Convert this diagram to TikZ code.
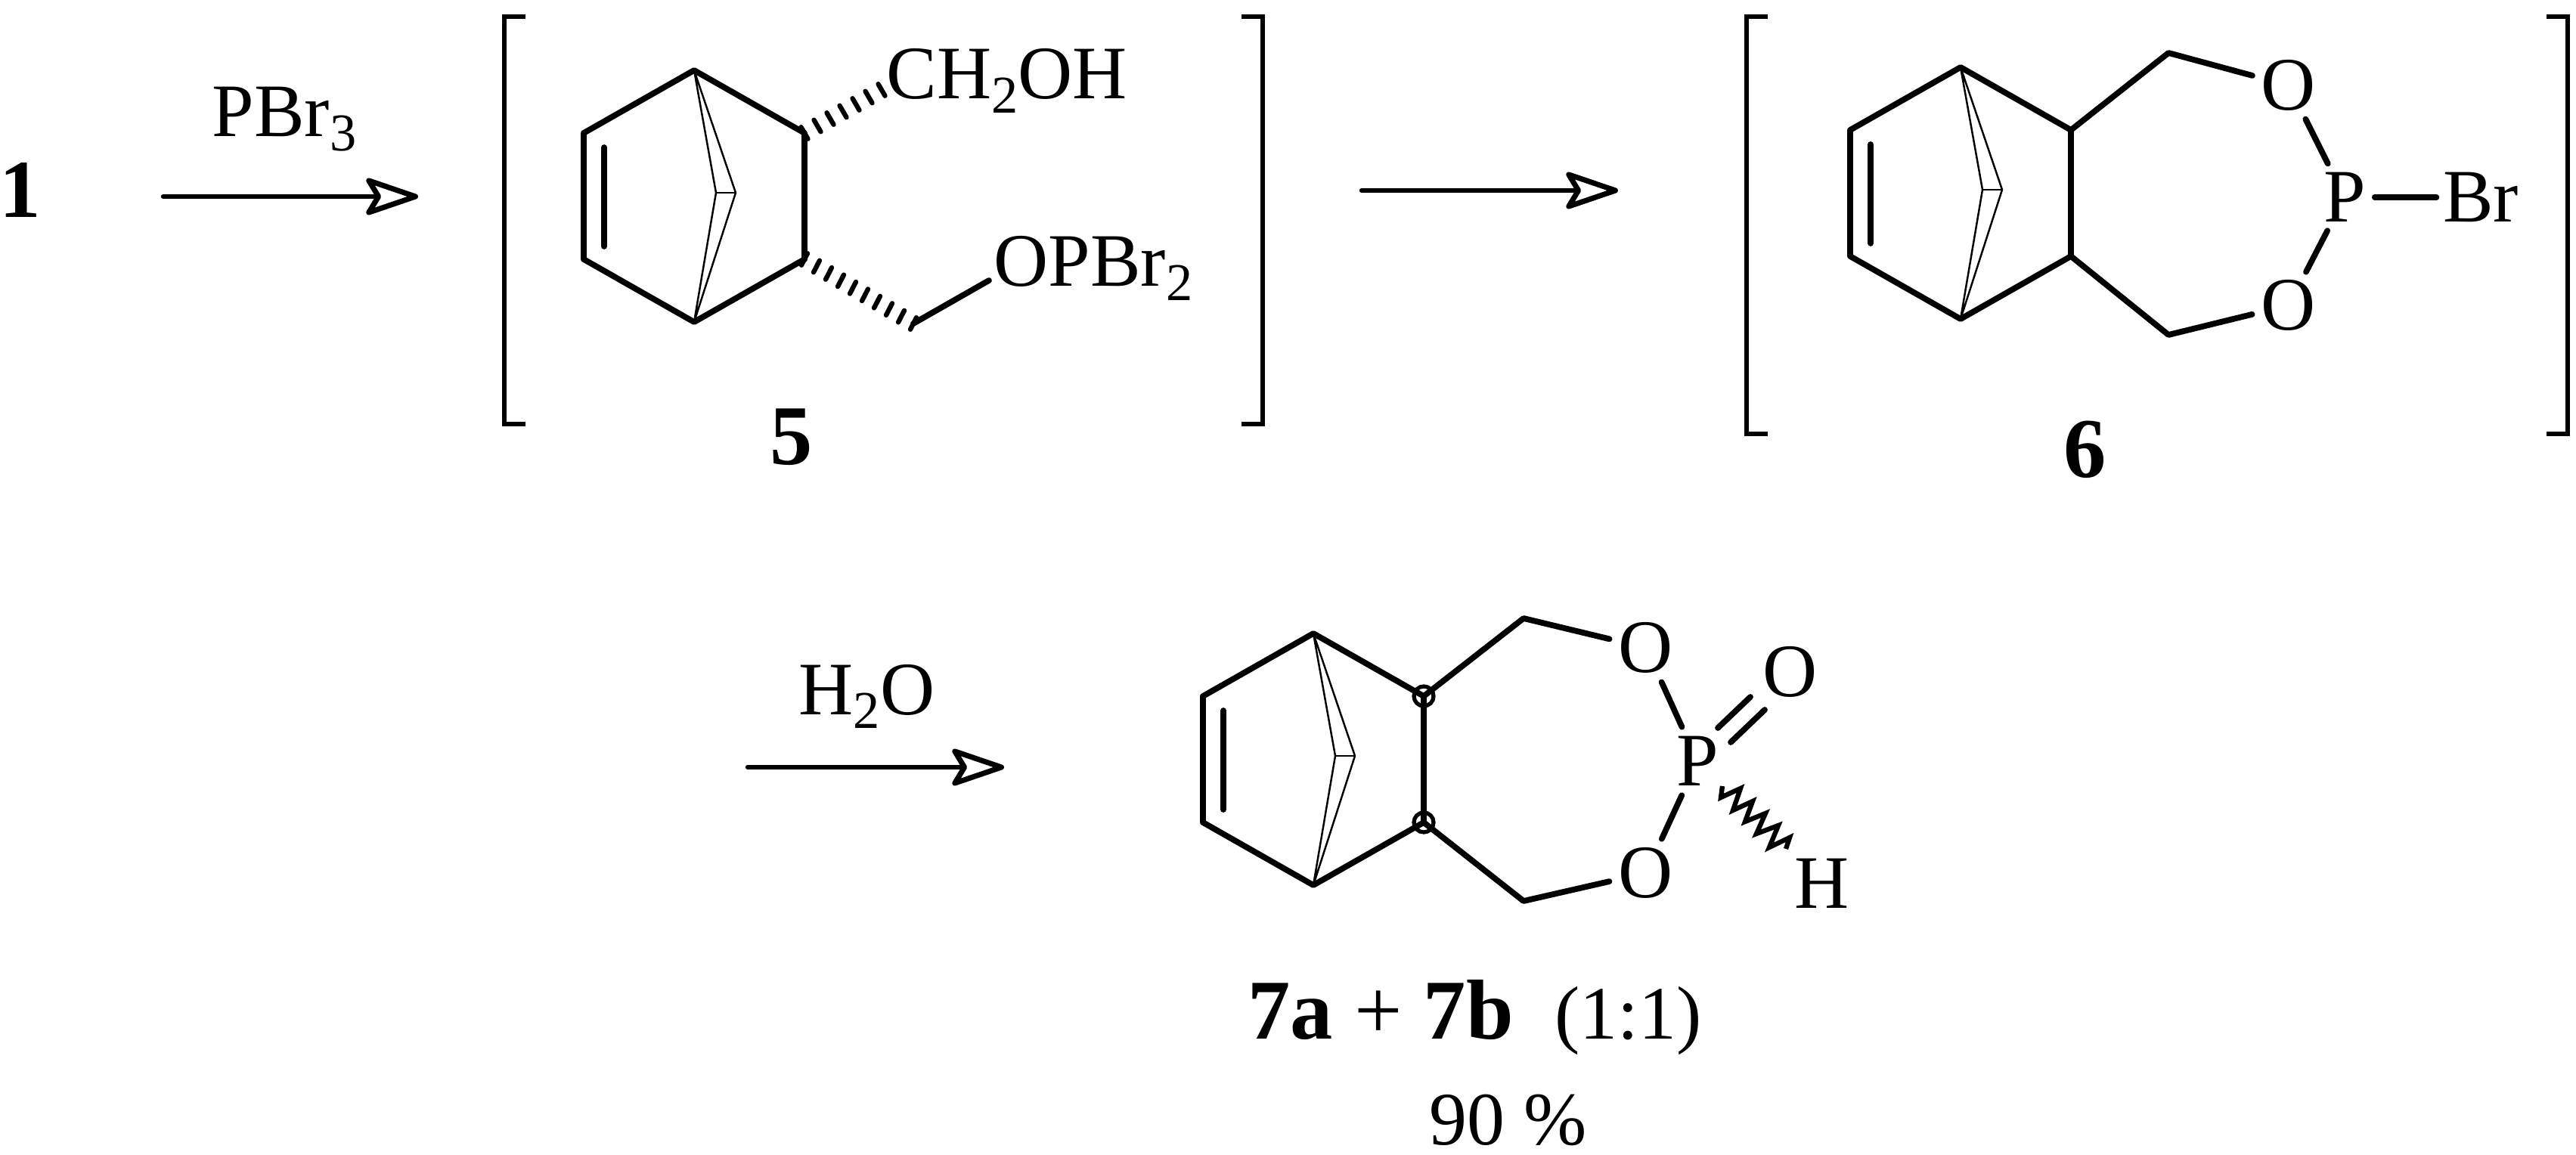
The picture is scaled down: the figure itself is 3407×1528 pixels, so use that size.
\documentclass[tikz,border=0pt]{standalone}
\usepackage{fontspec}
\setmainfont{Liberation Serif}
\usetikzlibrary{arrows.meta, calc}

\tikzset{
  bond/.style={line width=2.2pt, line cap=round, line join=round},
  thinbond/.style={line width=0.7pt, line join=round},
  hash/.style={line width=1.8pt, line cap=round},
  rxn/.style={line width=1.85pt, line cap=round, -{Stealth[open, round, length=0.8cm, width=0.54cm, inset=0.16cm, line width=2pt]}},
  brack/.style={line width=1.9pt},
  chem/.style={inner sep=0pt, font=\fontsize{28.4}{30}\selectfont},
  cmpd/.style={inner sep=0pt, font=\fontsize{32}{34}\selectfont\bfseries},
  atom/.style={chem, circle, minimum size=0.98cm},
  wavy/.style={line width=1.8pt, miter limit=4},
  ring/.style={line width=1.5pt}
}

% subscript in the text font
\newcommand{\sbs}[1]{\raisebox{-0.18cm}{\fontsize{20}{20}\selectfont #1}}

% bicyclic skeleton, #1 name prefix, #2 top bridgehead
\newcommand{\norbornene}[2]{
  \begin{scope}[shift={#2}, name prefix=#1-]
    \coordinate (top) at (0,0);
    \coordinate (lt) at (-146,83);
    \coordinate (lb) at (-146,250);
    \coordinate (bot) at (0,333);
    \coordinate (rb) at (146,250);
    \coordinate (rt) at (146,83);
    \coordinate (dbt) at (-119,102);
    \coordinate (dbb) at (-119,233);
    \coordinate (apl) at (29,162);
    \coordinate (apr) at (55,162);
    \draw[bond] (rt) -- (top) -- (lt) -- (lb) -- (bot) -- (rb) -- cycle;
    \draw[bond] (dbt) -- (dbb);
    \draw[thinbond] (top) -- (apl) -- (bot) -- (apr) -- cycle;
    \draw[thinbond] (apl) -- (apr);
  \end{scope}
}

% hashed bond, #1 start, #2 end, #3 lean of the strokes
\newcommand{\hashbond}[3]{
  \foreach \t in {0,0.1667,0.3333,0.5,0.6667,0.8333,1} {
    \draw[hash] ($(#1)!\t!(#2)+(-#3,-7.8)$) -- ($(#1)!\t!(#2)+(#3,7.8)$);
  }
}
% the longer one, strokes leaning the other way
\newcommand{\hashbondlong}[3]{
  \foreach \t in {0,0.1111,0.2222,0.3333,0.4444,0.5556,0.6667,0.7778,0.8889,1} {
    \draw[hash] ($(#1)!\t!(#2)+(#3,-7.8)$) -- ($(#1)!\t!(#2)+(-#3,7.8)$);
  }
}

% square bracket pair, #1 left, #2 right, #3 top, #4 bottom
\newcommand{\bracketpair}[4]{
  \draw[brack] (#1+28,#3) -- (#1,#3) -- (#1,#4) -- (#1+28,#4);
  \draw[brack] (#2-28,#3) -- (#2,#3) -- (#2,#4) -- (#2-28,#4);
}

\begin{document}
\begin{tikzpicture}[x=0.01cm, y=-0.01cm]
  \path[use as bounding box] (0,0) rectangle (3407,1528);

  % Start and first arrow
  \node[cmpd, font=\fontsize{31}{34}\selectfont\bfseries, anchor=base] (one) at (27,288) {1};
  \coordinate (arra) at (216,260);
  \coordinate (arrb) at (553,260);
  \draw[rxn] (arra) -- (arrb);
  \node[chem, anchor=base west] (pbr) at (280,181) {PBr\sbs{3}};

  % Compound 5
  \bracketpair{667}{1670}{22}{561}
  \norbornene{a}{(918,93)}
  \coordinate (ah) at (1166,119);
  \coordinate (ac) at (1208,428);
  \coordinate (ao) at (1308,371);
  \hashbond{a-rt}{ah}{4.5}
  \hashbondlong{a-rb}{ac}{4}
  \draw[bond] (ac) -- (ao);
  \node[chem, anchor=base west] (choh) at (1172,131) {CH\sbs{2}OH};
  \node[chem, anchor=base west] (opbr) at (1314,379) {OPBr\sbs{2}};
  \node[cmpd, anchor=base] (five) at (1047,614) {5};

  % Second arrow
  \coordinate (arrc) at (1801,252);
  \coordinate (arrd) at (2140,252);
  \draw[rxn] (arrc) -- (arrd);

  % Compound 6
  \bracketpair{2310}{3396}{22}{574}
  \norbornene{b}{(2593,89)}
  \coordinate (bch) at (2868,70);
  \coordinate (bcl) at (2868,443);
  \node[atom] (bo) at (3027,113) {O};
  \node[atom] (bu) at (3027,404) {O};
  \node[atom] (bp) at (3101,261) {P};
  \node[chem, rectangle, inner sep=0.08cm] (bbr) at (3281,261) {Br};
  \draw[bond] (b-rt) -- (bch) -- (bo);
  \draw[bond] (b-rb) -- (bcl) -- (bu);
  \draw[bond] (bo) -- (bp) -- (bu);
  \draw[bond, shorten <=-0.1cm] (bp) -- (bbr);
  \node[cmpd, anchor=base] (six) at (2758,632) {6};

  % Third arrow
  \coordinate (arre) at (989,1015);
  \coordinate (arrf) at (1328,1015);
  \draw[rxn] (arre) -- (arrf);
  \node[chem, anchor=base west] (water) at (1056,945) {H\sbs{2}O};

  % Compound 7
  \norbornene{c}{(1737,838)}
  \coordinate (cch) at (2015,818);
  \coordinate (ccl) at (2015,1192);
  \node[atom] (co) at (2177,857) {O};
  \node[atom] (cu) at (2177,1155) {O};
  \node[atom] (cp) at (2245,1007) {P};
  \node[chem] (cox) at (2368,889) {O};
  \node[chem] (chy) at (2410,1169) {H};
  \draw[bond] (c-rt) -- (cch) -- (co);
  \draw[bond] (c-rb) -- (ccl) -- (cu);
  \draw[bond] (co) -- (cp) -- (cu);
  \coordinate (dba) at (2272,963);
  \coordinate (dbb) at (2315,922);
  \coordinate (dbc) at (2289,982);
  \coordinate (dbd) at (2334,939);
  \draw[bond] (dba) -- (dbb);
  \draw[bond] (dbc) -- (dbd);
  \coordinate (wva) at (2278,1040);
  \draw[wavy] (wva) -- ++(-2,15) -- ++(26,-12) -- ++(-10,29) -- ++(26,-12) -- ++(-10,27)
    -- ++(27,-11) -- ++(-12,27) -- ++(29,-11) -- ++(-12,29) -- ++(27,-13) -- ++(-5,15);
  \draw[ring] (c-rt) circle (13);
  \draw[ring] (c-rb) circle (13);

  % Yield line
  \node[cmpd, anchor=base west] (mix) at (1650,1374) {7a\hspace{0.28cm}\textmd{+}\hspace{0.28cm}7b};
  \node[chem, anchor=base west] (ratio) at (2056,1374) {(1:1)};
  \node[chem, anchor=base west] (yield) at (1890,1514) {90 \%};
\end{tikzpicture}
\end{document}
